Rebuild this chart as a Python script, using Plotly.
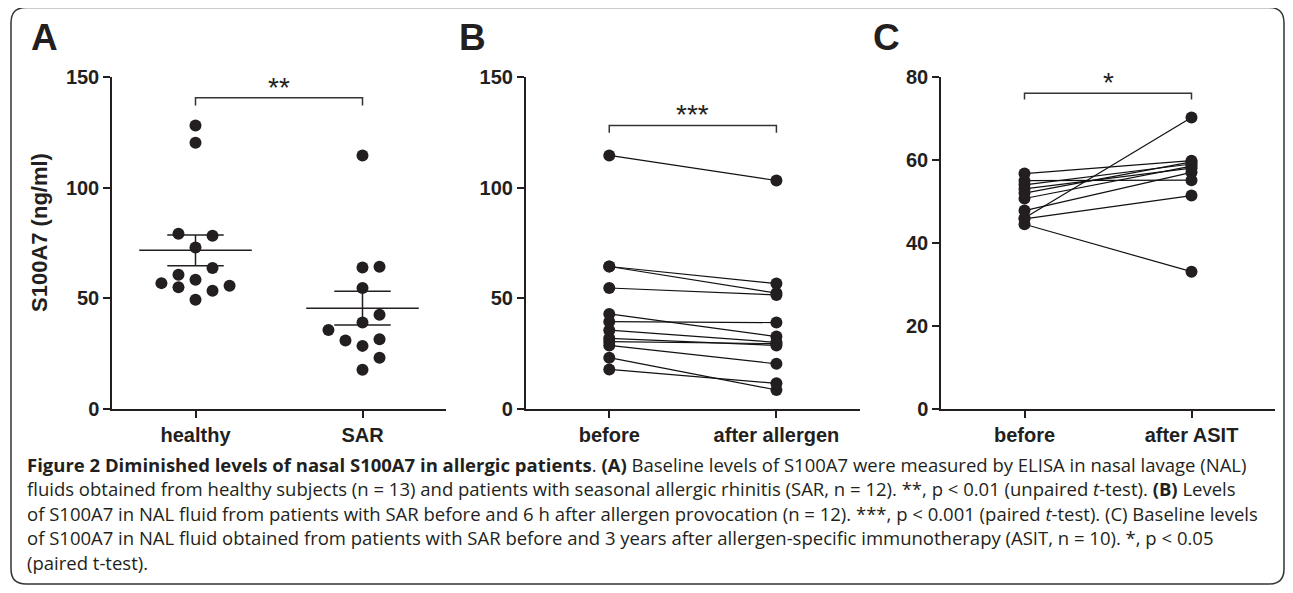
import numpy as np
import plotly.graph_objects as go

# ---------------- data ----------------
# Panel A
groups_A = ["healthy", "SAR"]
healthy = [128.0, 120.2, 79.2, 78.3, 73.0, 63.7, 60.7, 58.4, 56.9, 55.0, 55.7, 53.5, 49.4]
sar = [114.5, 64.0, 64.3, 54.7, 42.6, 39.1, 35.8, 31.0, 31.6, 28.6, 23.3, 17.8]
# Panel B (paired)
groups_B = ["before", "after allergen"]
before_B = [114.5, 64.4, 64.4, 54.7, 43.0, 39.5, 35.7, 32.0, 30.5, 28.8, 23.3, 18.0]
after_B = [103.2, 56.7, 52.4, 51.6, 32.8, 39.1, 30.2, 28.8, 29.6, 20.5, 8.7, 11.7]
# Panel C (paired)
groups_C = ["before", "after ASIT"]
before_C = [44.5, 46.0, 45.8, 47.8, 50.7, 52.0, 53.0, 54.0, 55.0, 56.7]
after_C = [33.1, 70.2, 51.4, 57.0, 58.5, 59.5, 58.0, 59.0, 55.1, 59.8]

yticks_AB = [0, 50, 100, 150]
yticks_C = [0, 20, 40, 60, 80]
stars = ["**", "***", "*"]
y_title = "S100A7 (ng/ml)"

# horizontal dot-plot slots (scatter layout of panel A)
healthy_slot = [0, 0, -1, 1, 0, 1, -1, 0, -2, -1, 2, 1, 0]
sar_slot = [0, 0, 1, 0, 1, 0, -2, -1, 1, 0, 1, 0]

# ---------------- style / layout ----------------
INK = "#231f20"
AXFONT = "Arial, Liberation Sans, sans-serif"
CAPFONT = "Open Sans, sans-serif"

# page has an 8px body margin; keep the figure inside the 1293x593 viewport
OX, OY = 8, 8
W, H = 1293 - 2 * OX, 593 - 2 * OY


def px(x):
    return (x - OX) / W


def py(y):
    return 1 - (y - OY) / H


y_dom = [py(409.3), py(76.7)]
x_doms = [[px(112), px(446)], [px(525.7), px(860)], [px(941), px(1275)]]

fig = go.Figure()

slot_w = 0.102
mk = dict(size=12, color=INK)

# Panel A
for i, (vals, slots) in enumerate([(healthy, healthy_slot), (sar, sar_slot)]):
    xs = [i + s * slot_w for s in slots]
    fig.add_trace(go.Scatter(x=xs, y=vals, mode="markers", marker=mk,
                             xaxis="x", yaxis="y", showlegend=False))
    arr = np.array(vals)
    m = arr.mean()
    sem = arr.std(ddof=1) / np.sqrt(len(arr))
    fig.add_trace(go.Scatter(x=[i - 0.337, i + 0.337], y=[m, m], mode="lines",
                             line=dict(color=INK, width=1.5), xaxis="x", yaxis="y", showlegend=False))
    fig.add_trace(go.Scatter(x=[i, i], y=[m - sem, m + sem], mode="lines",
                             line=dict(color=INK, width=1.5), xaxis="x", yaxis="y", showlegend=False))
    for v in (m - sem, m + sem):
        fig.add_trace(go.Scatter(x=[i - 0.169, i + 0.169], y=[v, v], mode="lines",
                                 line=dict(color=INK, width=1.5), xaxis="x", yaxis="y", showlegend=False))

# Panels B and C
for xa, ya, bef, aft in [("x2", "y2", before_B, after_B), ("x3", "y3", before_C, after_C)]:
    for b, a in zip(bef, aft):
        fig.add_trace(go.Scatter(x=[0, 1], y=[b, a], mode="lines",
                                 line=dict(color="#111", width=1.2),
                                 xaxis=xa, yaxis=ya, showlegend=False))
    fig.add_trace(go.Scatter(x=[0] * len(bef) + [1] * len(aft), y=list(bef) + list(aft),
                             mode="markers", marker=mk, xaxis=xa, yaxis=ya, showlegend=False))

axis_common = dict(showline=True, linecolor=INK, linewidth=1.5, ticks="outside",
                   ticklen=7, tickwidth=1.5, tickcolor=INK, showgrid=False, zeroline=False,
                   fixedrange=True, automargin=False)
xfont = dict(family=AXFONT, size=20, color=INK, weight="bold")
yfont = dict(family=AXFONT, size=20, color=INK, weight="bold")

layout = dict(width=W, height=H, margin=dict(l=0, r=0, t=0, b=0, pad=0, autoexpand=False),
              autosize=False, plot_bgcolor="white", paper_bgcolor="white", showlegend=False)

for k, (dom, labels, yt, yr) in enumerate([
        (x_doms[0], groups_A, yticks_AB, [0, 150]),
        (x_doms[1], groups_B, yticks_AB, [0, 150]),
        (x_doms[2], groups_C, yticks_C, [0, 80])]):
    sfx = "" if k == 0 else str(k + 1)
    layout["xaxis" + sfx] = dict(domain=dom, range=[-0.5, 1.5], tickvals=[0, 1], ticktext=labels,
                                 tickfont=xfont, anchor="y" + sfx, **axis_common)
    layout["yaxis" + sfx] = dict(domain=y_dom, range=yr, tickvals=yt, tickfont=yfont,
                                 anchor="x" + sfx, **axis_common)

fig.update_layout(**layout)

# significance brackets
brackets = [("x", "y", 140.5, 137.0, stars[0], 81),
            ("x2", "y2", 128.0, 124.7, stars[1], 107),
            ("x3", "y3", 76.0, 74.5, stars[2], 75)]
for xa, ya, top, leg, st, star_y in brackets:
    fig.add_shape(type="path", xref=xa, yref=ya,
                  path=f"M 0,{leg} L 0,{top} L 1,{top} L 1,{leg}",
                  line=dict(color="#333", width=1.5))
    fig.add_annotation(x=0.5, xref=xa, y=py(star_y + 7), yref="paper", text=st,
                       showarrow=False, xanchor="center", yanchor="middle",
                       font=dict(family=AXFONT, size=28, color=INK))

# y-axis title (panel A)
fig.add_annotation(x=px(39), y=py(233), xref="paper", yref="paper", text=y_title,
                   textangle=-90, showarrow=False, xanchor="center", yanchor="middle",
                   font=dict(family=AXFONT, size=22, color=INK, weight="bold"))

# panel letters
for letter, lx in [("A", 44.5), ("B", 472.5), ("C", 886)]:
    fig.add_annotation(x=px(lx), y=py(37), xref="paper", yref="paper", text=letter,
                       showarrow=False, xanchor="center", yanchor="middle",
                       font=dict(family=AXFONT, size=37, color=INK, weight="bold"))

# caption
caption = [
    "<b>Figure 2 Diminished levels of nasal S100A7 in allergic patients</b>. <b>(A)</b> Baseline levels of S100A7 were measured by ELISA in nasal lavage (NAL)",
    "fluids obtained from healthy subjects (n = 13) and patients with seasonal allergic rhinitis (SAR, n = 12). **, p &lt; 0.01 (unpaired <i>t</i>-test). <b>(B)</b> Levels",
    "of S100A7 in NAL fluid from patients with SAR before and 6 h after allergen provocation (n = 12). ***, p &lt; 0.001 (paired <i>t</i>-test). (C) Baseline levels",
    "of S100A7 in NAL fluid obtained from patients with SAR before and 3 years after allergen-specific immunotherapy (ASIT, n = 10). *, p &lt; 0.05",
    "(paired t-test).",
]
for i, line in enumerate(caption):
    fig.add_annotation(x=px(25), y=py(464 + 24.5 * i), xref="paper", yref="paper", text=line,
                       showarrow=False, xanchor="left", yanchor="middle",
                       font=dict(family=CAPFONT, size=18.5, color="#231f20"))

# rounded border (clipped to figure edges where the reference runs off-page)
x0, y0, x1, y1, r = 11, 7.5, 1284, 584, 15
rx, ry = r / W, r / H
X0, X1, Y0, Y1 = px(x0), px(x1), py(y0), py(y1)
path = (f"M {X0 + rx},{Y0} L {X1 - rx},{Y0} Q {X1},{Y0} {X1},{Y0 - ry} "
        f"L {X1},{Y1 + ry} Q {X1},{Y1} {X1 - rx},{Y1} L {X0 + rx},{Y1} "
        f"Q {X0},{Y1} {X0},{Y1 + ry} L {X0},{Y0 - ry} Q {X0},{Y0} {X0 + rx},{Y0} Z")
fig.add_shape(type="path", xref="paper", yref="paper", path=path,
              line=dict(color="#333", width=1.5))

fig.write_html("out.html")
